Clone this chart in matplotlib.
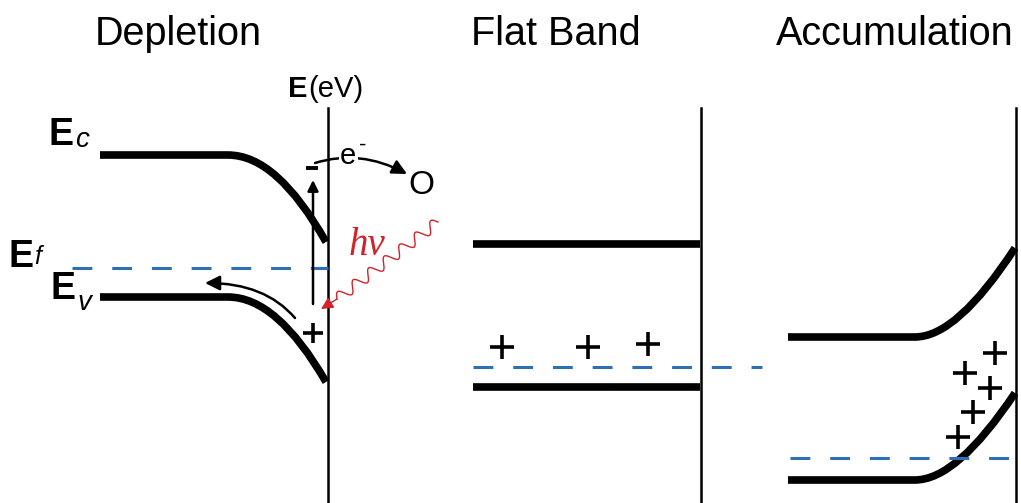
import matplotlib
matplotlib.use("Agg")
import matplotlib.pyplot as plt
import numpy as np
from matplotlib.path import Path
from matplotlib.patches import FancyArrowPatch, PathPatch

plt.rcParams["font.family"] = ["Liberation Sans", "DejaVu Sans"]

W, H = 1021, 503
BLUE = "#2f6fb6"
RED = "#d0232b"

# panel titles
titles = ["Depletion", "Flat Band", "Accumulation"]
title_x = [178, 556, 895]
title_base = 45

# semiconductor surface lines
surface_x = [328, 701, 1016]
surface_top = 108

# bent bands: x_start, x_knee, y_flat, x_end, y_end, bezier control fraction
dep_ec = (100, 228, 155, 326, 242, 0.5)
dep_ev = (100, 228, 297, 326, 382, 0.5)
acc_ec = (788, 915, 337, 1015, 248, 0.42)
acc_ev = (788, 915, 480, 1015, 393, 0.42)
# flat bands: x_start, x_end, y
flat_ec = (473, 700, 244)
flat_ev = (473, 700, 387)

# Fermi levels: x_start, x_end, y
fermi = [(72, 328, 268), (473, 762, 367), (790, 1015, 458)]

# holes (+)
flat_holes_x = [502, 588, 648]
flat_holes_y = [347, 347, 344]
acc_holes_x = [995, 965, 990, 973, 958]
acc_holes_y = [353, 373, 388, 412, 437]
dep_hole = (313, 333)
dep_electron = (312, 168)

fig = plt.figure(figsize=(W / 100, H / 100), dpi=100)
ax = fig.add_axes([0, 0, 1, 1])
ax.set_xlim(0, W)
ax.set_ylim(H, 0)
ax.axis("off")


def bent_band(x0, xk, yf, x1, y1, frac):
    cx = xk + frac * (x1 - xk)
    verts = [(x0, yf), (xk, yf), (cx, yf), (x1, y1)]
    codes = [Path.MOVETO, Path.LINETO, Path.CURVE3, Path.CURVE3]
    ax.add_patch(PathPatch(Path(verts, codes), fill=False, lw=5.5,
                           edgecolor="black", capstyle="butt", joinstyle="round"))


for t, x in zip(titles, title_x):
    ax.text(x, title_base, t, fontsize=28.5, ha="center", va="baseline")

for x in surface_x:
    ax.plot([x, x], [surface_top, H], color="black", lw=1.8)

for b in [dep_ec, dep_ev, acc_ec, acc_ev]:
    bent_band(*b)
for x0, x1, y in [flat_ec, flat_ev]:
    ax.plot([x0, x1], [y, y], color="black", lw=5.5, solid_capstyle="butt")

for x0, x1, y in fermi:
    ax.plot([x0, x1], [y, y], color=BLUE, lw=2.2, dashes=(6.5, 6.5))

ax.plot(flat_holes_x, flat_holes_y, "+", color="black", ms=17, mew=2.6)
ax.plot(acc_holes_x, acc_holes_y, "+", color="black", ms=17, mew=2.6)
ax.plot(*dep_hole, "+", color="black", ms=15, mew=2.6)
ax.plot(*dep_electron, "_", color="black", ms=8, mew=2.8)

# band labels
def band_label(x, y, sub, sx, sy, size=20):
    ax.text(x, y, "E", fontsize=27, fontweight="bold", ha="left", va="baseline")
    ax.text(sx, sy, sub, fontsize=size, style="italic", ha="left", va="baseline")


band_label(48, 145, "c", 75, 147)
band_label(8, 267, "f", 34, 264, size=18)
band_label(50, 299, "v", 77, 310)

ax.text(288, 97, "E", fontsize=21, fontweight="bold", ha="left", va="baseline")
ax.text(308, 97, "(eV)", fontsize=21, ha="left", va="baseline")

# excitation arrow
ax.annotate("", xy=(313, 180), xytext=(313, 304),
            arrowprops=dict(arrowstyle="-|>", color="black", lw=1.8,
                            mutation_scale=16, shrinkA=0, shrinkB=0))

# hole moving into bulk
hole_path = Path([(295, 318), (265, 283), (205, 283)],
                 [Path.MOVETO, Path.CURVE3, Path.CURVE3])
ax.add_patch(FancyArrowPatch(path=hole_path, arrowstyle="-|>", color="black",
                             lw=1.8, mutation_scale=22))

# electron transfer to O
e_path = Path([(315, 163), (360, 149), (407, 174)],
              [Path.MOVETO, Path.CURVE3, Path.CURVE3])
ax.add_patch(FancyArrowPatch(path=e_path, arrowstyle="-|>", color="black",
                             lw=1.8, mutation_scale=22))
ax.text(340, 164, "e", fontsize=21, ha="left", va="baseline",
        bbox=dict(facecolor="white", edgecolor="none", pad=1))
ax.text(359, 151, "-", fontsize=16, ha="left", va="baseline",
        bbox=dict(facecolor="white", edgecolor="none", pad=1))
ax.text(421, 186, "O", fontsize=24, ha="center", va="center")

# photon
p0 = np.array([438, 222])
q = np.array([337, 299])
d = q - p0
L = np.hypot(*d)
u = d / L
n = np.array([-u[1], u[0]])
s = np.linspace(0, L, 400)
wave = p0 + np.outer(s, u) + np.outer(5.5 * np.sin(2 * np.pi * s / (L / 6.5)), n)
ax.plot(wave[:, 0], wave[:, 1], color=RED, lw=1.0)
ax.annotate("", xy=(321, 309), xytext=tuple(q),
            arrowprops=dict(arrowstyle="-|>", color=RED, lw=1.0,
                            mutation_scale=18, shrinkA=0, shrinkB=0))
ax.text(349, 255, "hν", fontsize=28, color=RED, style="italic",
        family=["Liberation Serif", "DejaVu Serif"], ha="left", va="baseline")

fig.savefig("out.png", dpi=100)
